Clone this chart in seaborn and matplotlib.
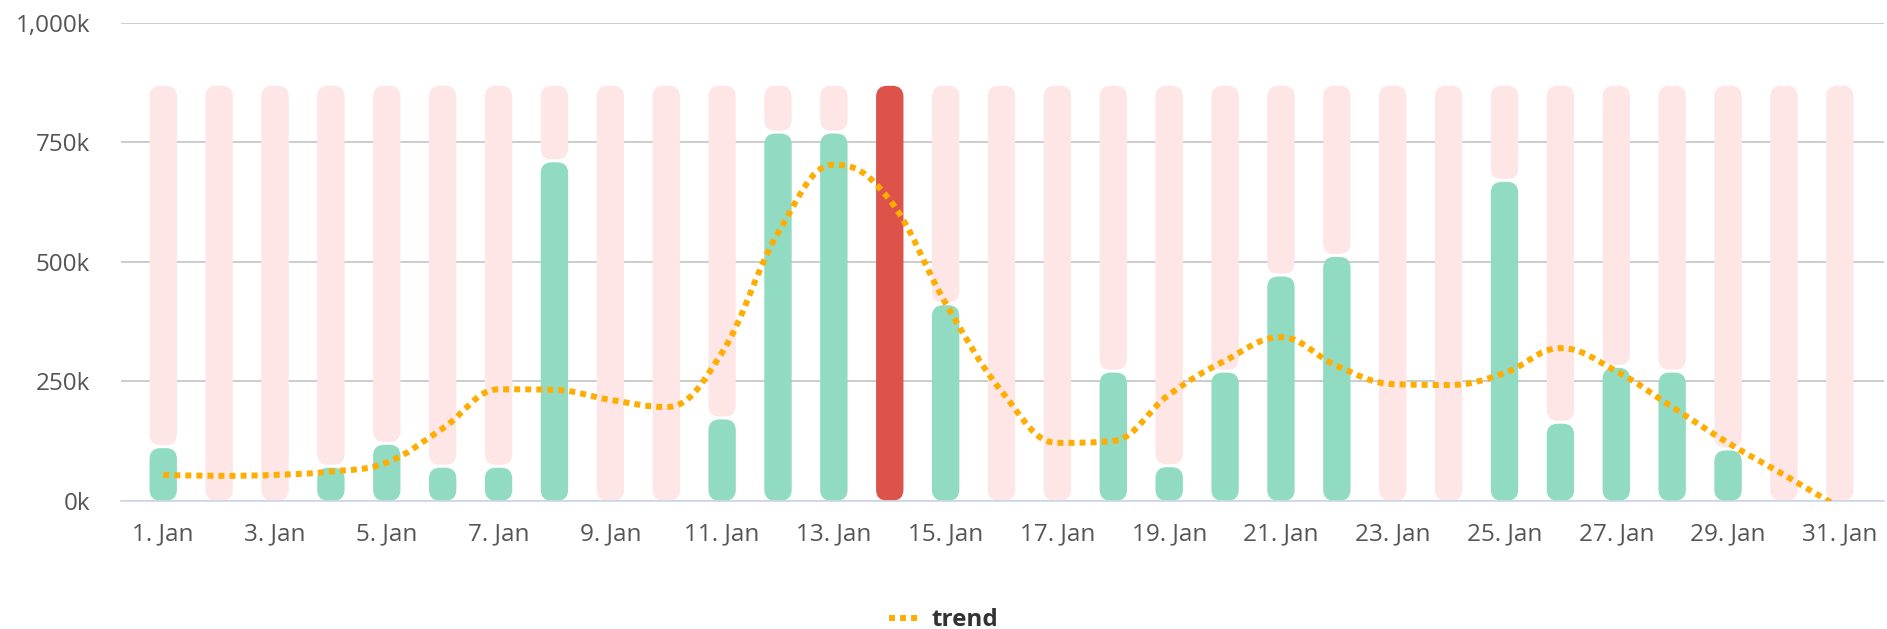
import numpy as np
import pandas as pd
import seaborn as sns
import matplotlib.pyplot as plt
from matplotlib.patches import FancyBboxPatch, PathPatch
from matplotlib.path import Path
from matplotlib.lines import Line2D
from matplotlib.ticker import FuncFormatter, MultipleLocator

# data (values in thousands)
days = [f"{d}. Jan" for d in range(1, 32)]
actual = [110, 0, 0, 69, 117, 69, 69, 708, 0, 0, 170, 768, 768, 868, 409, 0,
          0, 268, 70, 268, 469, 510, 0, 0, 667, 161, 278, 268, 105, 0, 0]
target = [868] * 31
trend = [54, 52, 54, 61, 80, 151, 233, 232, 211, 196, 310, 560, 703, 629, 413, 229,
         121, 125, 222, 293, 342, 282, 244, 242, 267, 319, 271, 196, 121, 54, -15]
peak_day = "14. Jan"

GREEN = "#92dbc3"
PINK = "#fde6e5"
RED = "#dd5349"
ORANGE = "#ffad00"

df = pd.DataFrame({"day": days,
                   "actual": np.array(actual) * 1000,
                   "target": np.array(target) * 1000,
                   "trend": np.array(trend) * 1000})
gap = 6000
df["bottom"] = np.where(df["actual"] > 0, df["actual"] + gap, 0)
df["rest"] = np.where(df["day"] == peak_day, 0, df["target"] - df["bottom"])

sns.set_style("white")
plt.rcParams["font.family"] = ["Open Sans", "DejaVu Sans"]

fig, ax = plt.subplots(figsize=(18.87, 6.29), dpi=100)
fig.subplots_adjust(left=0.064, right=0.9984, bottom=0.204, top=0.9639)

# remaining part up to target (pink), stacked on the actual bar
sns.barplot(data=df, x="day", y="rest", color=PINK, saturation=1, width=0.49,
            errorbar=None, ax=ax)
pink_bars = list(ax.patches)
for p, b in zip(pink_bars, df["bottom"]):
    p.set_y(b)

bar_colors = {d: (RED if d == peak_day else GREEN) for d in days}
sns.barplot(data=df, x="day", y="actual", hue="day", palette=bar_colors,
            saturation=1, width=0.49, errorbar=None, legend=False, ax=ax)

ax.set_xlim(-0.76, 30.79)
ax.set_ylim(0, 1_000_000)

# rounded bars
px = ax.transData.transform([(0, 0), (1, 1000)])
px_x = px[1, 0] - px[0, 0]
px_y = (px[1, 1] - px[0, 1]) / 1000
aspect = px_x / px_y
radius = 11 / px_x
for p in list(ax.patches):
    x, y, w, h = p.get_x(), p.get_y(), p.get_width(), p.get_height()
    fc = p.get_facecolor()
    p.remove()
    if h <= 0:
        continue
    rr = min(radius, w / 2, h / aspect / 2)
    ax.add_patch(FancyBboxPatch((x, y), w, h,
                                boxstyle=f"round,pad=0,rounding_size={rr}",
                                mutation_aspect=aspect, fc=fc, ec="none", zorder=2))


# smooth trend curve (highcharts-like spline through the points)
def spline_path(xs, ys, smooth=1.5):
    n = len(xs)
    lc, rc = [None] * n, [None] * n
    for i in range(n):
        x, y = xs[i], ys[i]
        if i == 0 or i == n - 1:
            lc[i] = rc[i] = (x, y)
            continue
        lx, ly, nx, ny = xs[i - 1], ys[i - 1], xs[i + 1], ys[i + 1]
        d = smooth + 1
        lcx, lcy = (smooth * x + lx) / d, (smooth * y + ly) / d
        rcx, rcy = (smooth * x + nx) / d, (smooth * y + ny) / d
        corr = (rcy - lcy) * (rcx - x) / (rcx - lcx) + y - rcy
        lcy += corr
        rcy += corr
        if lcy > ly and lcy > y:
            lcy = max(ly, y); rcy = 2 * y - lcy
        elif lcy < ly and lcy < y:
            lcy = min(ly, y); rcy = 2 * y - lcy
        if rcy > ny and rcy > y:
            rcy = max(ny, y); lcy = 2 * y - rcy
        elif rcy < ny and rcy < y:
            rcy = min(ny, y); lcy = 2 * y - rcy
        lc[i], rc[i] = (lcx, lcy), (rcx, rcy)
    verts = [(xs[0], ys[0])]
    codes = [Path.MOVETO]
    for i in range(1, n):
        verts += [rc[i - 1], lc[i], (xs[i], ys[i])]
        codes += [Path.CURVE4] * 3
    return Path(verts, codes)


dots = (0, (1, 0.85))
ax.add_patch(PathPatch(spline_path(list(range(31)), list(df["trend"])), fill=False,
                       ec=ORANGE, lw=4.3, linestyle=dots, zorder=3))

# axes styling
for s in ["top", "right", "left"]:
    ax.spines[s].set_visible(False)
ax.spines["bottom"].set_color("#ccd6eb")
ax.spines["bottom"].set_linewidth(1.2)
ax.yaxis.set_major_locator(MultipleLocator(250_000))
ax.yaxis.set_major_formatter(FuncFormatter(lambda v, _: f"{v / 1000:,.0f}k"))
ax.yaxis.grid(True, color="#c8c8c8", lw=1.3)
ax.set_axisbelow(True)
ax.set_xticks(range(0, 31, 2))
ax.set_xticklabels(days[::2])
ax.tick_params(axis="x", length=12.5, width=1.1, color="#ccd6eb", pad=3,
               labelsize=17.5, labelcolor="#555555")
ax.tick_params(axis="y", length=0, pad=22, labelsize=17.5, labelcolor="#555555")
ax.set_xlabel("")
ax.set_ylabel("")

handle = Line2D([], [], color=ORANGE, lw=4.3, linestyle=dots, dash_capstyle="butt")
fig.legend([handle], ["trend"], loc="center", bbox_to_anchor=(0.5, 0.014),
           frameon=False, handlelength=1.25, handletextpad=0.5,
           prop={"size": 17.5, "weight": "bold"}, labelcolor="#333333")

fig.savefig("out.png", dpi=100)
